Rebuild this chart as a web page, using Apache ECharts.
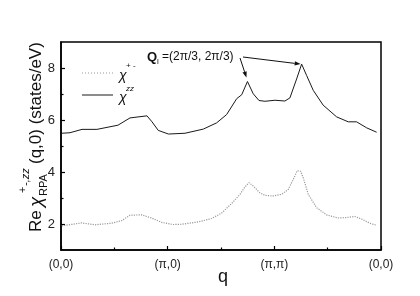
<!DOCTYPE html>
<html><head><meta charset="utf-8">
<script src="https://cdn.jsdelivr.net/npm/echarts@6/dist/echarts.min.js"></script>
<style>html,body{margin:0;padding:0;background:#fff}#c{width:420px;height:296px}</style>
</head><body><div id="c"></div>
<script>
// q-path coordinate (0..3 = (0,0)->(pi,0)->(pi,pi)->(0,0))
const xTickLabels = ['(0,0)', '(π,0)', '(π,π)', '(0,0)'];
const yTickValues = [2, 4, 6, 8];
const yMinorValues = [3, 5, 7];

const chiZZ_q = [0.007,0.084,0.197,0.337,0.534,0.647,0.806,0.853,0.912,1.007,1.162,1.334,1.459,1.553,1.647,1.694,1.748,1.802,1.856,1.912,2.006,2.099,2.146,2.209,2.256,2.303,2.365,2.458,2.584,2.693,2.771,2.865,2.959];
const chiZZ_v = [5.49,5.51,5.64,5.64,5.80,6.08,6.16,5.93,5.60,5.46,5.49,5.65,5.89,6.21,6.82,6.97,7.48,7.01,6.75,6.72,6.76,6.73,6.85,7.58,8.15,7.71,7.14,6.57,6.12,5.93,5.93,5.70,5.53];

const chiPM_q = [0.007,0.194,0.319,0.475,0.569,0.647,0.756,0.850,0.944,1.052,1.131,1.287,1.412,1.506,1.600,1.678,1.724,1.762,1.802,1.865,1.912,1.990,2.068,2.130,2.177,2.215,2.246,2.271,2.318,2.396,2.490,2.599,2.678,2.755,2.818,2.896,2.957];
const chiPM_v = [1.93,2.04,1.97,2.03,2.13,2.34,2.35,2.23,2.06,1.98,1.99,2.08,2.21,2.42,2.79,3.14,3.42,3.59,3.46,3.20,3.10,3.08,3.14,3.33,3.71,4.05,4.03,3.78,3.14,2.63,2.35,2.23,2.25,2.29,2.19,2.03,1.95];

const peak1 = [1.748, 7.48];
const peak2 = [2.256, 8.15];

const zip = (a, b) => a.map((v, i) => [v, b[i]]);
const FONT = 'Liberation Sans, Arial, sans-serif';

const chart = echarts.init(document.getElementById('c'), null, {renderer: 'canvas'});
chart.setOption({
  animation: false,
  backgroundColor: '#fff',
  grid: {left: 61, right: 39, top: 42, bottom: 46, show: true, borderColor: '#000', borderWidth: 1.5, backgroundColor: 'transparent'},
  xAxis: {
    type: 'value', min: 0, max: 3, interval: 1,
    axisLine: {show: true, lineStyle: {color: '#000', width: 1.5}},
    axisTick: {show: true, inside: true, length: 4, lineStyle: {color: '#000', width: 1.2}},
    minorTick: {show: true, splitNumber: 2, length: 2.5, lineStyle: {color: '#000', width: 1.2}},
    splitLine: {show: false},
    axisLabel: {color: '#222', fontSize: 12, fontFamily: FONT, margin: 9,
      formatter: v => xTickLabels[Math.round(v)]}
  },
  yAxis: [{
    type: 'value', min: 1, max: 9,
    axisLine: {show: true, lineStyle: {color: '#000', width: 1.5}},
    axisTick: {show: true, inside: true, length: 4, customValues: yTickValues, lineStyle: {color: '#000', width: 1.2}},
    splitLine: {show: false},
    axisLabel: {color: '#222', fontSize: 13, fontFamily: FONT, margin: 6, customValues: yTickValues}
  }, {
    type: 'value', min: 1, max: 9, position: 'left',
    axisLine: {show: false},
    axisTick: {show: true, inside: true, length: 2.5, customValues: yMinorValues, lineStyle: {color: '#000', width: 1.2}},
    splitLine: {show: false},
    axisLabel: {show: false}
  }],
  series: [{
    name: 'chi+-', type: 'line', data: zip(chiPM_q, chiPM_v), showSymbol: false,
    lineStyle: {color: '#9a9a9a', width: 1.2, type: 'dotted'}
  }, {
    name: 'chizz', type: 'line', data: zip(chiZZ_q, chiZZ_v), showSymbol: false,
    lineStyle: {color: '#1a1a1a', width: 1}
  }]
});

function arrow(x1, y1, x2, y2) {
  const a = Math.atan2(y2 - y1, x2 - x1), L = 6, W = 2.2;
  const bx = x2 - L * Math.cos(a), by = y2 - L * Math.sin(a);
  return [
    {type: 'line', shape: {x1, y1, x2: bx, y2: by}, style: {stroke: '#111', lineWidth: 1}},
    {type: 'polygon', shape: {points: [[x2, y2], [bx - W * Math.sin(a), by + W * Math.cos(a)], [bx + W * Math.sin(a), by - W * Math.cos(a)]]}, style: {fill: '#111'}}
  ];
}

const p1 = chart.convertToPixel({gridIndex: 0}, peak1);
const p2 = chart.convertToPixel({gridIndex: 0}, peak2);

const graphics = [];
// y-axis title (rotated)
graphics.push({
  type: 'group', x: 36, y: 232, rotation: Math.PI / 2,
  children: [
    {type: 'text', x: 0, y: 0, style: {text: 'Re', font: '17px ' + FONT, fill: '#111', textVerticalAlign: 'middle'}},
    {type: 'text', x: 25, y: 1, style: {text: 'χ', font: 'italic 19px ' + FONT, fill: '#111', textVerticalAlign: 'middle'}},
    {type: 'text', x: 39, y: -13, style: {text: '+', font: '11px ' + FONT, fill: '#111', textVerticalAlign: 'middle'}},
    {type: 'text', x: 46, y: -10, style: {text: '-,zz', font: 'italic 11px ' + FONT, fill: '#111', textVerticalAlign: 'middle'}},
    {type: 'text', x: 36, y: 8, style: {text: 'RPA', font: '11px ' + FONT, fill: '#111', textVerticalAlign: 'middle'}},
    {type: 'text', x: 68, y: 0, style: {text: '(q,0) (states/eV)', font: '17px ' + FONT, fill: '#111', textVerticalAlign: 'middle'}}
  ]
});
// x-axis title
graphics.push({type: 'text', x: 223, y: 277, style: {text: 'q', font: '18px ' + FONT, fill: '#111', textAlign: 'center', textVerticalAlign: 'middle'}});
// legend
graphics.push({type: 'line', shape: {x1: 82, y1: 73, x2: 113, y2: 73}, style: {stroke: '#9a9a9a', lineWidth: 1.2, lineDash: [1, 2]}});
graphics.push({type: 'text', x: 119, y: 76, style: {text: 'χ', font: 'italic 14px ' + FONT, fill: '#111', textVerticalAlign: 'middle'}});
graphics.push({type: 'text', x: 126, y: 66, style: {text: '+ -', font: '8px ' + FONT, fill: '#111', textVerticalAlign: 'middle'}});
graphics.push({type: 'line', shape: {x1: 82, y1: 95, x2: 113, y2: 95}, style: {stroke: '#1a1a1a', lineWidth: 1}});
graphics.push({type: 'text', x: 119, y: 98, style: {text: 'χ', font: 'italic 14px ' + FONT, fill: '#111', textVerticalAlign: 'middle'}});
graphics.push({type: 'text', x: 126, y: 89, style: {text: 'zz', font: 'italic 8px ' + FONT, fill: '#111', textVerticalAlign: 'middle'}});
// annotation
graphics.push({type: 'text', x: 147, y: 57, style: {text: 'Q', font: 'bold 13px ' + FONT, fill: '#111', textVerticalAlign: 'middle'}});
graphics.push({type: 'text', x: 157, y: 62, style: {text: 'l', font: '8px ' + FONT, fill: '#111', textVerticalAlign: 'middle'}});
graphics.push({type: 'text', x: 162, y: 57, style: {text: '=(2π/3, 2π/3)', font: '12px ' + FONT, fill: '#111', textVerticalAlign: 'middle'}});
graphics.push(...arrow(240, 58, p1[0] - 1, p1[1] - 4));
graphics.push(...arrow(243, 57, p2[0] - 1, p2[1]));

chart.setOption({graphic: graphics});
</script>
</body></html>
